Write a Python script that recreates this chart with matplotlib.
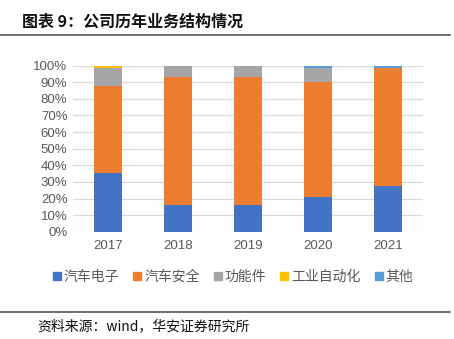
import matplotlib
matplotlib.use("Agg")
import matplotlib.pyplot as plt
from matplotlib.lines import Line2D
import numpy as np

plt.rcParams['font.family'] = ['Noto Sans CJK SC', 'DejaVu Sans']

years = ['2017', '2018', '2019', '2020', '2021']
series_names = ['汽车电子', '汽车安全', '功能件', '工业自动化', '其他']
auto_electronics = [35.4, 16.2, 16.2, 21.0, 27.7]
auto_safety = [52.6, 77.2, 77.2, 69.4, 70.7]
functional_parts = [10.6, 6.6, 6.6, 8.0, 0.0]
industrial_automation = [1.4, 0.0, 0.0, 0.0, 0.0]
others = [0.0, 0.0, 0.0, 1.6, 1.6]
yticks = [0, 10, 20, 30, 40, 50, 60, 70, 80, 90, 100]

colors = ['#4472C4', '#ED7D31', '#A5A5A5', '#FFC000', '#5B9BD5']
values = [auto_electronics, auto_safety, functional_parts, industrial_automation, others]

fig = plt.figure(figsize=(4.54, 3.39), dpi=100)
ax = fig.add_axes([73 / 454, 1 - 231.7 / 339, 350 / 454, 166 / 339])

x = np.arange(len(years))
bottom = np.zeros(len(years))
for vals, c in zip(values, colors):
    v = np.array(vals, dtype=float)
    ax.bar(x, v, 0.4, bottom=bottom, color=c, zorder=3, linewidth=0)
    bottom += v

ax.set_xlim(-0.5, len(years) - 0.5)
ax.set_ylim(0, 100)
ax.set_yticks(yticks)
ax.set_yticklabels([f'{t}%' for t in yticks], fontsize=9.5, color='#595959',
                   family=['Liberation Sans', 'DejaVu Sans'])
ax.set_xticks(x)
ax.set_xticklabels(years, fontsize=9.5, color='#595959',
                   family=['Liberation Sans', 'DejaVu Sans'])
ax.tick_params(axis='both', length=0)
ax.tick_params(axis='x', pad=6)
ax.tick_params(axis='y', pad=4)
for s in ax.spines.values():
    s.set_visible(False)
ax.yaxis.grid(True, color='#D9D9D9', linewidth=0.9, zorder=0)
ax.set_axisbelow(True)

handles = [Line2D([0], [0], marker='s', linestyle='none', markersize=5.5,
                  markerfacecolor=c, markeredgecolor=c) for c in colors]
fig.legend(handles, series_names, loc='center', bbox_to_anchor=(233 / 454, 1 - 277 / 339),
           ncol=5, frameon=False, fontsize=10, handlelength=0.6, handletextpad=0.2,
           columnspacing=1.0, labelcolor='#595959')

# header and footer
fig.text(22 / 454, 1 - 22 / 339, '图表 9：公司历年业务结构情况', fontsize=11.5,
         fontweight='bold', va='center', ha='left', color='#111111')
fig.add_artist(Line2D([0, 450 / 454], [1 - 34.5 / 339, 1 - 34.5 / 339],
                      color='#555555', linewidth=1.2))
fig.add_artist(Line2D([0, 450 / 454], [1 - 312 / 339, 1 - 312 / 339],
                      color='#555555', linewidth=1.2))
fig.text(37 / 454, 1 - 326 / 339, '资料来源：wind，华安证券研究所', fontsize=10,
         va='center', ha='left', color='#111111')

fig.savefig('out.png', dpi=100)
